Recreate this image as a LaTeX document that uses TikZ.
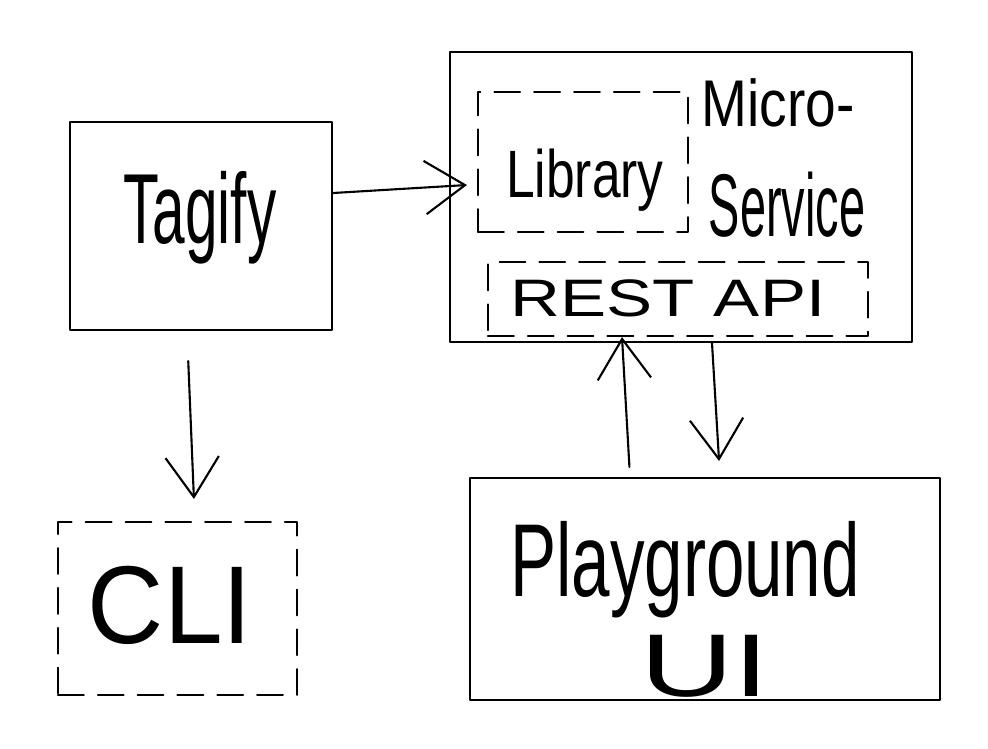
\documentclass[tikz,border=0pt]{standalone}
\usepackage{fontspec}
\setmainfont{Liberation Sans}
\usetikzlibrary{arrows.meta,calc}
\tikzset{
  pen/.style={line width=1.8pt, black, line cap=round, line join=round},
  box/.style={pen, draw, rectangle, inner sep=0pt},
  dbox/.style={box, dash pattern=on 22pt off 12pt},
  arr/.style={pen, -{Straight Barb[length=1.2cm, width=1.6cm, line width=1.8pt]}},
  lbl/.style={inner sep=0pt, text=black},
}
\newcommand{\hw}[4]{\fontsize{#1}{#1}\selectfont\scalebox{#2}[#3]{#4}}
\begin{document}
\begin{tikzpicture}[x=0.03cm, y=-0.03cm]
\useasboundingbox (0,0) rectangle (988,748);
% boxes
\node[box, minimum width=7.86cm, minimum height=6.24cm] (tag) at (201,226) {};
\node[box, minimum width=13.86cm, minimum height=8.7cm] (micro) at (681,197) {};
\node[dbox, minimum width=6.3cm, minimum height=4.2cm] (lib) at (583,162) {};
\node[dbox, minimum width=11.4cm, minimum height=2.22cm] (rest) at (678,299) {};
\node[dbox, minimum width=7.17cm, minimum height=5.19cm] (cli) at (177.5,608.5) {};
\node[box, minimum width=14.1cm, minimum height=6.66cm] (play) at (705,589) {};
% labels
\node[lbl] (tagt) at (200,218) {\hw{50}{1}{1.7}{Tagify}};
\node[lbl] (libt) at (585,180) {\hw{44}{1}{1.3}{Library}};
\node[lbl] (microt) at (778,103) {\hw{47}{1}{1.2}{Micro-}};
\node[lbl] (servt) at (787,205) {\hw{40}{1}{1.9}{Service}};
\node[lbl] (restt) at (668,298) {\hw{45}{1.31}{1}{REST API}};
\node[lbl] (clit) at (170,605) {\hw{90}{1}{1.05}{CLI}};
\node[lbl] (playt) at (685,570) {\hw{59}{1}{1.5}{Playground}};
\node[lbl] (uit) at (705,666) {\hw{80}{1.38}{0.95}{UI}};
% connectors
\draw[arr] ([yshift=0.99cm]tag.east) -- ([yshift=-0.69cm, xshift=-0.3cm]lib.west);
\draw[arr, shorten <=0.9cm, shorten >=0.66cm] ([xshift=-0.42cm]tag.south) -- ([xshift=0.52cm]cli.north);
\draw[arr, shorten <=0.3cm] ([xshift=-2.25cm]play.north) -- ([xshift=-1.68cm]rest.south);
\draw[arr, shorten >=0.48cm] ([xshift=0.93cm]micro.south) -- ([xshift=0.45cm]play.north);
\end{tikzpicture}
\end{document}
